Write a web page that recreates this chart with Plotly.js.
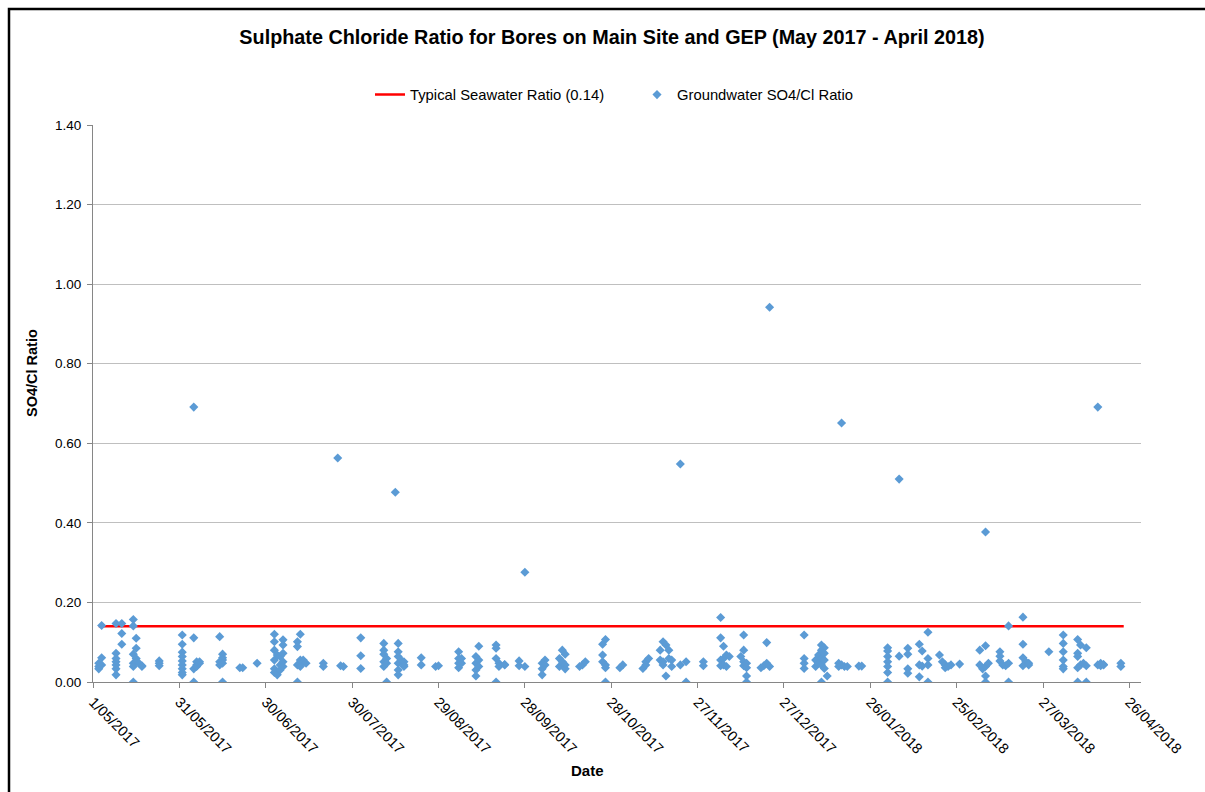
<!DOCTYPE html>
<html>
<head>
<meta charset="utf-8">
<script src="https://cdn.plot.ly/plotly-3.0.1.min.js"></script>
<style>
  html, body { margin: 0; padding: 0; background: #ffffff; }
  #chart { width: 1205px; height: 792px; }
</style>
</head>
<body>
<div id="chart"></div>
<script>
// ---- Data ----
const chartTitle = 'Sulphate Chloride Ratio for Bores on Main Site and GEP (May 2017 - April 2018)';
const seawaterName = 'Typical Seawater Ratio (0.14)';
const groundwaterName = 'Groundwater SO4/Cl Ratio';

const seawaterDates = ['2017-05-03', '2018-04-24'];
const seawaterRatio = [0.14, 0.14];

const sampleDates = [
  '2017-05-03','2017-05-04','2017-05-09','2017-05-11','2017-05-15','2017-05-16','2017-05-17','2017-05-18',
  '2017-05-24','2017-06-01','2017-06-05','2017-06-06','2017-06-07','2017-06-14','2017-06-15','2017-06-21',
  '2017-06-22','2017-06-27','2017-07-03','2017-07-04','2017-07-05','2017-07-06','2017-07-11','2017-07-12',
  '2017-07-13','2017-07-14','2017-07-20','2017-07-25','2017-07-26','2017-07-27','2017-08-02','2017-08-10',
  '2017-08-11','2017-08-14','2017-08-15','2017-08-16','2017-08-17','2017-08-23','2017-08-28','2017-08-29',
  '2017-09-05','2017-09-06','2017-09-11','2017-09-12','2017-09-18','2017-09-19','2017-09-21','2017-09-26',
  '2017-09-28','2017-10-04','2017-10-05','2017-10-10','2017-10-11','2017-10-12','2017-10-17','2017-10-18',
  '2017-10-19','2017-10-25','2017-10-26','2017-10-31','2017-11-01','2017-11-08','2017-11-09','2017-11-10',
  '2017-11-14','2017-11-15','2017-11-16','2017-11-17','2017-11-18','2017-11-21','2017-11-23','2017-11-29',
  '2017-12-05','2017-12-06','2017-12-07','2017-12-08','2017-12-12','2017-12-13','2017-12-14','2017-12-19',
  '2017-12-20','2017-12-21','2017-12-22','2018-01-03','2018-01-07','2018-01-08','2018-01-09','2018-01-10',
  '2018-01-11','2018-01-15','2018-01-16','2018-01-17','2018-01-18','2018-01-22','2018-01-23','2018-02-01',
  '2018-02-05','2018-02-08','2018-02-12','2018-02-13','2018-02-15','2018-02-19','2018-02-20','2018-02-21',
  '2018-02-22','2018-02-23','2018-02-26','2018-03-05','2018-03-06','2018-03-07','2018-03-08','2018-03-12',
  '2018-03-13','2018-03-14','2018-03-15','2018-03-20','2018-03-21','2018-03-22','2018-03-29','2018-04-03',
  '2018-04-08','2018-04-09','2018-04-10','2018-04-11','2018-04-15','2018-04-16','2018-04-17','2018-04-23'
];

const sampleRatios = [
  [0.039,0.033,0.047], [0.142,0.061,0.043], [0.147,0.072,0.059,0.051,0.043,0.033,0.018], [0.147,0.122,0.095],
  [0.157,0.141,0.070,0.047,0.039,0.000], [0.110,0.085,0.059,0.051], [0.047], [0.041,0.039],
  [0.053,0.047,0.041], [0.118,0.095,0.075,0.064,0.053,0.043,0.033,0.024,0.018], [0.691,0.111,0.033,0.000], [0.043,0.051,0.039],
  [0.047,0.051], [0.114,0.051,0.043], [0.070,0.061,0.055,0.047,0.000], [0.036],
  [0.036], [0.047], [0.120,0.101,0.080,0.055,0.033,0.024], [0.068,0.018],
  [0.064,0.043,0.030], [0.106,0.093,0.072,0.051,0.039], [0.101,0.089,0.043,0.000], [0.120,0.055,0.039],
  [0.055,0.051], [0.047], [0.047,0.039], [0.563], [0.041], [0.039], [0.111,0.066,0.034], [0.097,0.080,0.070,0.051,0.039],
  [0.059,0.047,0.000], [0.477], [0.097,0.076,0.064,0.047,0.030,0.018], [0.055], [0.051,0.043,0.039], [0.061,0.043], [0.039], [0.041],
  [0.076,0.059,0.047,0.036], [0.059,0.047], [0.064,0.047,0.030,0.015], [0.090,0.055,0.039], [0.093,0.085,0.059,0.000], [0.047,0.039], [0.043,0.044], [0.053,0.041],
  [0.276,0.039], [0.047,0.033,0.018], [0.055,0.043], [0.059,0.039], [0.080,0.051], [0.070,0.043,0.033], [0.039], [0.043],
  [0.051], [0.095,0.068,0.051], [0.107,0.043,0.036,0.000], [0.036], [0.043], [0.034], [0.043,0.051], [0.059],
  [0.080,0.055], [0.101,0.051,0.043], [0.093,0.015], [0.080,0.059], [0.055,0.039], [0.548,0.043], [0.051,0.000], [0.051,0.041],
  [0.162,0.111,0.055,0.041], [0.090,0.059,0.043], [0.068,0.039], [0.064], [0.064], [0.118,0.080,0.051,0.041], [0.047,0.036,0.015,0.000], [0.036],
  [0.041], [0.099,0.047], [0.942,0.039], [0.118,0.059,0.047,0.034], [0.055,0.039], [0.068,0.047], [0.080,0.000,0.093,0.059,0.043], [0.086,0.072,0.055,0.034],
  [0.015], [0.047,0.039], [0.651,0.043], [0.039], [0.039], [0.040], [0.040], [0.086,0.078,0.064,0.051,0.039,0.024,0.000],
  [0.510,0.065], [0.085,0.070,0.033,0.022], [0.095,0.043,0.013], [0.078,0.040], [0.125,0.059,0.043,0.000], [0.068], [0.051], [0.043,0.036],
  [0.039], [0.043], [0.045], [0.080,0.043], [0.033], [0.377,0.091,0.039,0.015,0.000], [0.047], [0.076,0.065,0.053],
  [0.043], [0.041], [0.141,0.047,0.000], [0.163,0.095,0.061,0.041], [0.051], [0.047,0.043], [0.076], [0.118,0.097,0.076,0.055,0.039,0.033],
  [0.107,0.072,0.064,0.036,0.000], [0.093,0.043], [0.047], [0.086,0.041,0.000], [0.691,0.043], [0.047,0.041], [0.043,0.044], [0.047,0.039]
];

const yTickValues = [0, 0.2, 0.4, 0.6, 0.8, 1.0, 1.2, 1.4];
const xAxisTitle = 'Date';
const yAxisTitle = 'SO4/Cl Ratio';

// ---- Flatten the per-date groups into point lists ----
const gwX = [], gwY = [];
sampleDates.forEach((d, i) => {
  sampleRatios[i].forEach(v => { gwX.push(d); gwY.push(v); });
});

const FONT = 'Arial, "Liberation Sans", sans-serif';

const traces = [
  {
    type: 'scatter', mode: 'lines', name: seawaterName,
    x: seawaterDates, y: seawaterRatio,
    line: { color: '#FF0000', width: 2.5 },
    hoverinfo: 'skip'
  },
  {
    type: 'scatter', mode: 'markers', name: groundwaterName,
    x: gwX, y: gwY,
    marker: { symbol: 'diamond', size: 7, color: '#5B9BD5', line: { width: 0 } }
  }
];

// plot area in px: left 93, right 1141, top 125, bottom 682
const PL = 93, PR = 1141, PT = 125, PB = 682;
const px = x => (x - PL) / (PR - PL);
const py = y => (PB - y) / (PB - PT);

const layout = {
  width: 1205, height: 792,
  margin: { l: PL, r: 1205 - PR, t: PT, b: 792 - PB, pad: 0 },
  paper_bgcolor: '#ffffff', plot_bgcolor: '#ffffff',
  font: { family: FONT, size: 13, color: '#000000' },
  showlegend: true,
  title: {
    text: '<b>' + chartTitle + '</b>',
    font: { family: FONT, size: 19.8, color: '#000000' },
    xref: 'paper', x: px(612), xanchor: 'center',
    yref: 'container', y: 1 - 37 / 792, yanchor: 'middle'
  },
  legend: {
    orientation: 'h',
    x: px(370), xanchor: 'left',
    y: py(95), yanchor: 'middle',
    entrywidth: 222, entrywidthmode: 'pixels',
    font: { family: FONT, size: 14.8, color: '#000000' },
    bgcolor: 'rgba(0,0,0,0)'
  },
  xaxis: {
    type: 'date',
    range: ['2017-05-01', '2018-04-30'],
    tickmode: 'linear', tick0: '2017-05-01', dtick: 30 * 86400000,
    tickformat: '%-d/%m/%Y',
    tickangle: 45,
    ticks: 'outside', ticklen: 5, tickcolor: '#868686', tickwidth: 1,
    showline: true, linecolor: '#868686', linewidth: 1,
    showgrid: false, zeroline: false,
    tickfont: { family: FONT, size: 14.5, color: '#000000' }
  },
  yaxis: {
    range: [0, 1.4],
    tickmode: 'array', tickvals: yTickValues,
    tickformat: '.2f',
    ticks: 'outside', ticklen: 5, tickcolor: '#868686', tickwidth: 1,
    ticklabelstandoff: 3,
    showline: true, linecolor: '#868686', linewidth: 1,
    showgrid: true, gridcolor: '#BFBFBF', gridwidth: 1,
    zeroline: false,
    tickfont: { family: FONT, size: 13.5, color: '#000000' }
  },
  annotations: [
    {
      text: '<b>' + yAxisTitle + '</b>', textangle: -90,
      xref: 'paper', yref: 'paper', x: px(32), y: py(373),
      xanchor: 'center', yanchor: 'middle', showarrow: false,
      font: { family: FONT, size: 14.5, color: '#000000' }
    },
    {
      text: '<b>' + xAxisTitle + '</b>',
      xref: 'paper', yref: 'paper', x: px(587), y: py(770),
      xanchor: 'center', yanchor: 'middle', showarrow: false,
      font: { family: FONT, size: 15, color: '#000000' }
    }
  ],
  shapes: [
    {
      type: 'rect', xref: 'paper', yref: 'paper',
      x0: px(9), x1: px(1230), y0: py(9), y1: py(820),
      line: { color: '#000000', width: 2.5 }, fillcolor: 'rgba(0,0,0,0)',
      layer: 'below'
    }
  ]
};

Plotly.newPlot('chart', traces, layout, { displayModeBar: false, staticPlot: true });
</script>
</body>
</html>
